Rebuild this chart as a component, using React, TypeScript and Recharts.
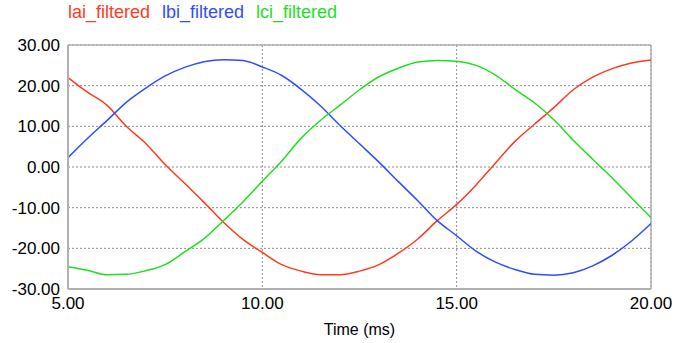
import { LineChart, Line, XAxis, YAxis, CartesianGrid, Legend, ReferenceLine } from "recharts"

// time in ms
const times = [
  5, 5.5, 6, 6.5, 7, 7.5, 8, 8.5, 9, 9.5, 10, 10.5, 11, 11.5, 12, 12.5,
  13, 13.5, 14, 14.5, 15, 15.5, 16, 16.5, 17, 17.5, 18, 18.5, 19, 19.5, 20,
]

const lai = [
  22.0, 18.4, 15.2, 10.0, 5.8, 0.6, -4.0, -8.7, -13.6, -17.8, -21.0, -24.0,
  -25.6, -26.5, -26.5, -25.6, -24.0, -21.2, -17.7, -13.2, -9.2, -4.4, 1.0,
  6.3, 10.5, 14.6, 19.0, 22.1, 24.2, 25.6, 26.3,
]

const lbi = [
  2.3, 7.0, 11.4, 15.9, 19.4, 22.4, 24.5, 25.9, 26.4, 26.2, 24.6, 22.5, 19.1,
  15.0, 10.2, 5.7, 1.2, -3.6, -8.3, -13.2, -16.9, -20.7, -23.4, -25.2, -26.4,
  -26.6, -26.0, -24.3, -21.7, -18.2, -13.9,
]

const lci = [
  -24.5, -25.4, -26.5, -26.4, -25.5, -24.0, -20.9, -17.6, -13.2, -8.6, -3.5,
  1.5, 7.1, 11.5, 15.2, 19.0, 22.2, 24.3, 25.8, 26.2, 26.0, 25.0, 22.6, 19.1,
  15.8, 11.6, 6.6, 1.9, -2.7, -7.6, -12.4,
]

const xTicks = [5, 10, 15, 20]
const yTicks = [-30, -20, -10, 0, 10, 20, 30]

const series = [
  { key: "lai_filtered", color: "#ff3b1f" },
  { key: "lbi_filtered", color: "#2f4dff" },
  { key: "lci_filtered", color: "#1fe01f" },
]

const data = times.map((t, i) => ({
  t,
  lai_filtered: lai[i],
  lbi_filtered: lbi[i],
  lci_filtered: lci[i],
}))

const font = "'Liberation Sans', Arial, sans-serif"

function LegendRow() {
  return (
    <div style={{ display: "flex", gap: 12, fontFamily: font, fontSize: 18, lineHeight: "20px" }}>
      {series.map((s) => (
        <span key={s.key} style={{ color: s.color }}>
          {s.key}
        </span>
      ))}
    </div>
  )
}

export default function App() {
  return (
    <div style={{ position: "absolute", left: 0, top: 0, background: "#fff" }}>
      <LineChart
        width={690}
        height={343}
        data={data}
        margin={{ top: 25, right: 39, left: 0, bottom: 0 }}
      >
        <CartesianGrid stroke="#8a8a8a" strokeDasharray="2 2" />
        <XAxis
          type="number"
          dataKey="t"
          domain={[5, 20]}
          ticks={xTicks}
          tickFormatter={(v: number) => v.toFixed(2)}
          tickLine={false}
          axisLine={{ stroke: "#b0b0b0", strokeWidth: 2 }}
          tick={{ fill: "#000", fontSize: 17, fontFamily: font }}
          height={54}
          label={{
            value: "Time (ms)",
            position: "insideBottom",
            offset: 8,
            fill: "#000",
            fontSize: 16,
            fontFamily: font,
          }}
        />
        <YAxis
          type="number"
          domain={[-30, 30]}
          ticks={yTicks}
          tickFormatter={(v: number) => v.toFixed(2)}
          tickLine={false}
          axisLine={{ stroke: "#b0b0b0", strokeWidth: 2 }}
          tick={{ fill: "#000", fontSize: 17, fontFamily: font }}
          width={68}
          interval={0}
        />
        <ReferenceLine y={30} stroke="#b0b0b0" strokeWidth={1.5} />
        <ReferenceLine x={20} stroke="#b0b0b0" strokeWidth={1.5} />
        <Legend
          verticalAlign="top"
          align="left"
          content={<LegendRow />}
          wrapperStyle={{ top: 2, left: 68 }}
        />
        {series.map((s) => (
          <Line
            key={s.key}
            type="monotone"
            dataKey={s.key}
            stroke={s.color}
            strokeWidth={1.5}
            dot={false}
            isAnimationActive={false}
          />
        ))}
      </LineChart>
    </div>
  )
}
